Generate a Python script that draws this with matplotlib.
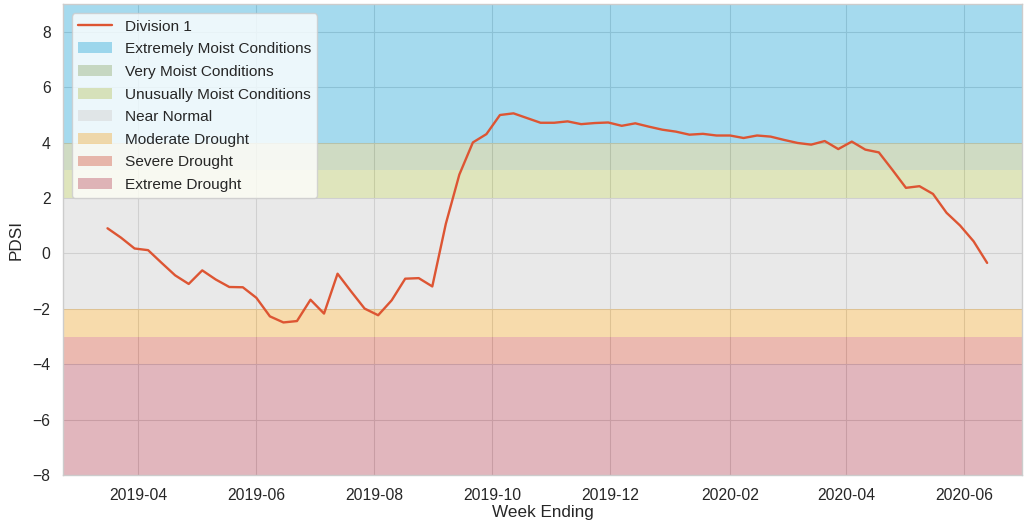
import pandas as pd
import matplotlib
matplotlib.use('Agg')
import matplotlib.pyplot as plt
import matplotlib.dates as mdates

# weekly PDSI, Division 1
start_date = '2019-03-16'
pdsi = [0.91, 0.57, 0.18, 0.12, -0.34, -0.79, -1.1, -0.61, -0.94, -1.21,
        -1.22, -1.6, -2.27, -2.49, -2.44, -1.67, -2.17, -0.73, -1.37, -1.99,
        -2.23, -1.69, -0.91, -0.89, -1.19, 1.07, 2.85, 4.01, 4.31, 5.0,
        5.06, 4.89, 4.72, 4.72, 4.77, 4.67, 4.71, 4.73, 4.61, 4.70,
        4.58, 4.47, 4.40, 4.29, 4.32, 4.26, 4.26, 4.17, 4.26, 4.22,
        4.10, 3.99, 3.93, 4.06, 3.77, 4.04, 3.75, 3.65, 3.02, 2.37,
        2.43, 2.15, 1.47, 1.01, 0.44, -0.34]
weeks = pd.date_range(start_date, periods=len(pdsi), freq='7D')

band_names = ['Extremely Moist Conditions', 'Very Moist Conditions',
              'Unusually Moist Conditions', 'Near Normal', 'Moderate Drought',
              'Severe Drought', 'Extreme Drought']
band_lo = [4, 3, 2, -2, -3, -4, -8]
band_hi = [9, 4, 3, 2, -2, -3, -4]
band_colors = ['#4db7df', '#a1b989', '#c1cd7b', '#d5d5d5', '#f1b95b', '#d97563', '#c56f7d']

plt.style.use('seaborn-v0_8-whitegrid')
plt.rcParams['font.family'] = ['Liberation Sans', 'DejaVu Sans']

fig = plt.figure(figsize=(10.25, 5.29), dpi=100)
ax = fig.add_axes([0.0615, 0.102, 0.9355, 0.890])

ax.plot(weeks, pdsi, color='#dd5533', linewidth=1.7, label='Division 1', zorder=3)
for name, lo, hi, c in zip(band_names, band_lo, band_hi, band_colors):
    ax.axhspan(lo, hi, color=c, alpha=0.5, linewidth=0, label=name)

ax.set_ylim(-8, 9)
ax.set_yticks(range(-8, 9, 2))
ax.set_xlim(pd.Timestamp('2019-02-21'), pd.Timestamp('2020-07-01'))
ax.xaxis.set_major_locator(mdates.MonthLocator(bymonth=[2, 4, 6, 8, 10, 12]))
ax.xaxis.set_major_formatter(mdates.DateFormatter('%Y-%m'))
ax.tick_params(labelsize=11.3, colors='#262626')
ax.tick_params(axis='x', pad=9.5)
ax.tick_params(axis='y', pad=9)
ax.set_xlabel('Week Ending', fontsize=12.3, color='#262626', labelpad=1)
ax.set_ylabel('PDSI', fontsize=12.3, color='#262626', labelpad=6)

ax.legend(loc='upper left', frameon=True, fontsize=11.1, framealpha=0.8,
          borderaxespad=0.6, handlelength=2.2, labelspacing=0.56)

fig.savefig('out.png', dpi=100)
